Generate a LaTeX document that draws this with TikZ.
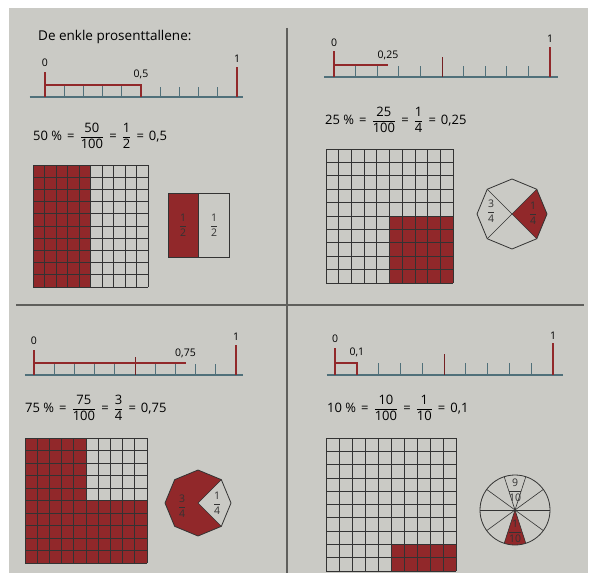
\documentclass[tikz,border=0pt]{standalone}
\usepackage{amsmath}
\usepackage{fontspec}
\setmainfont{Open Sans}
\usepackage{tikz}
\usetikzlibrary{positioning, calc}
\definecolor{page}{RGB}{202,202,197}
\definecolor{brick}{RGB}{145,40,42}
\definecolor{axisblue}{RGB}{80,112,122}
\definecolor{rulegray}{RGB}{95,95,92}
\newcommand{\fr}[2]{$\dfrac{\text{#1}}{\text{#2}}$}
\newcommand{\eq}{\hspace{5pt}=\hspace{5pt}}

\tikzset{
  numaxis/.style={draw=axisblue, line width=1.1pt},
  nltick/.style={draw=axisblue, line width=1pt},
  halftick/.style={draw=brick!80!black, line width=1pt},
  redmark/.style={draw=brick, line width=1.4pt},
  gridcell/.style={draw=black!80, line width=0.7pt},
  nlabel/.style={font=\fontsize{10.5}{12}\selectfont, inner sep=0pt},
  eqn/.style={font=\fontsize{13}{15}\selectfont, anchor=west, inner sep=0pt},
  partlabel/.style={font=\fontsize{10.5}{12}\selectfont, inner sep=0pt, text=black!80},
}

\begin{document}
\begin{tikzpicture}[x=1pt, y=-1pt]
    \useasboundingbox (0,0) rectangle (591,575);
    \fill[white] (0,0) rectangle (591,575);
    \fill[page] (9,8) rectangle (588,573);

    % dividers
    \draw[rulegray, line width=1.1pt] (287,28) -- (287,573);
    \draw[rulegray, line width=1.1pt] (16,305) -- (584,305);

    \node[font=\fontsize{13.5}{16}\selectfont, anchor=base west, inner sep=0pt] (title) at (38,41) {De enkle prosenttallene:};

    % 50 %
    \begin{scope}[shift={(45,97)}, xscale=19.2]
      \draw[numaxis] (-0.8,0) -- (10.3,0);
      \foreach \k in {1,...,4} \draw[nltick] (\k,0) -- (\k,-12);
      \foreach \k in {6,...,9} \draw[nltick] (\k,0) -- (\k,-10);
      \draw[redmark] (0,0) -- (0,-25) (0,-12) -- (5,-12) -- (5,0) (10,0) -- (10,-30);
      \node[nlabel] (zeroA) at (0,-34) {0};
      \node[nlabel] (markA) at (5,-23) {0,5};
      \node[nlabel] (oneA) at (10,-38) {1};
    \end{scope}
    \node[eqn] (eqA) at (33,136) {50 \%\eq\fr{50}{100}\eq\fr{1}{2}\eq0,5};
    \begin{scope}[shift={(33,165)}, xscale=11.5, yscale=12.2]
      \fill[brick] (0,0) rectangle (5,10);
      \foreach \i in {0,...,10} {
        \draw[gridcell] (\i,0) -- (\i,10);
        \draw[gridcell] (0,\i) -- (10,\i);
      }
    \end{scope}
    \fill[brick] (168,193) rectangle (198.5,257);
    \draw[gridcell, line width=0.8pt] (168,193) rectangle (229,257) (198.5,193) -- (198.5,257);
    \node[partlabel] (halfL) at (183,225) {\fr{1}{2}};
    \node[partlabel] (halfR) at (214,225) {\fr{1}{2}};

    % 25 %
    \begin{scope}[shift={(334,77)}, xscale=21.6]
      \draw[numaxis] (-0.45,0) -- (10.35,0);
      \foreach \k in {1,2} \draw[nltick] (\k,0) -- (\k,-12);
      \foreach \k in {3,4,6,7,8,9} \draw[nltick] (\k,0) -- (\k,-11);
      \draw[halftick] (5,0) -- (5,-20);
      \draw[redmark] (0,0) -- (0,-26) (0,-12) -- (2.5,-12) (10,0) -- (10,-30);
      \node[nlabel] (zeroB) at (0,-34) {0};
      \node[nlabel] (markB) at (2.5,-22) {0,25};
      \node[nlabel] (oneB) at (10,-38) {1};
    \end{scope}
    \node[eqn] (eqB) at (325,120) {25 \%\eq\fr{25}{100}\eq\fr{1}{4}\eq0,25};
    \begin{scope}[shift={(326,149)}, xscale=12.7, yscale=13.4]
      \fill[brick] (5,5) rectangle (10,10);
      \foreach \i in {0,...,10} {
        \draw[gridcell] (\i,0) -- (\i,10);
        \draw[gridcell] (0,\i) -- (10,\i);
      }
    \end{scope}
    \begin{scope}[shift={(512,214)}, yscale=-1]
      \fill[brick] (0,0) -- (45:35) -- (0:35) -- (-45:35) -- cycle;
      \draw[gridcell, line width=0.8pt] (0:35) \foreach \a in {45,90,...,315} { -- (\a:35) } -- cycle;
      \draw[gridcell, line width=0.6pt] (45:35) -- (225:35) (135:35) -- (-45:35);
      \node[partlabel] (threeB) at (-21,3) {\fr{3}{4}};
      \node[partlabel] (quarterB) at (21,1) {\fr{1}{4}};
    \end{scope}

    % 75 %
    \begin{scope}[shift={(34,375)}, xscale=20.2]
      \draw[numaxis] (-0.45,0) -- (10.35,0);
      \foreach \k in {1,2,3,4,6,7} \draw[nltick] (\k,0) -- (\k,-12);
      \foreach \k in {8,9} \draw[nltick] (\k,0) -- (\k,-11);
      \draw[halftick] (5,0) -- (5,-18);
      \draw[redmark] (0,0) -- (0,-25) (0,-12) -- (7.5,-12) (10,0) -- (10,-30);
      \node[nlabel] (zeroC) at (0,-34) {0};
      \node[nlabel] (markC) at (7.5,-22) {0,75};
      \node[nlabel] (oneC) at (10,-38) {1};
    \end{scope}
    \node[eqn] (eqC) at (25,408) {75 \%\eq\fr{75}{100}\eq\fr{3}{4}\eq0,75};
    \begin{scope}[shift={(25,438)}, xscale=12.2, yscale=12.5]
      \fill[brick] (0,0) -- (5,0) -- (5,5) -- (10,5) -- (10,10) -- (0,10) -- cycle;
      \foreach \i in {0,...,10} {
        \draw[gridcell] (\i,0) -- (\i,10);
        \draw[gridcell] (0,\i) -- (10,\i);
      }
    \end{scope}
    \begin{scope}[shift={(198,503)}, yscale=-1]
      \fill[brick] (0,0) \foreach \a in {45,90,...,315} { -- (\a:33) } -- cycle;
      \draw[gridcell, line width=0.8pt] (0:33) \foreach \a in {45,90,...,315} { -- (\a:33) } -- cycle;
      \draw[gridcell, line width=0.6pt] (45:33) -- (0,0) -- (-45:33);
      \node[partlabel] (threeC) at (-16,-3) {\fr{3}{4}};
      \node[partlabel] (quarterC) at (19,0) {\fr{1}{4}};
    \end{scope}

    % 10 %
    \begin{scope}[shift={(335,375)}, xscale=21.8]
      \draw[numaxis] (-0.37,0) -- (10.45,0);
      \foreach \k in {2,3,4,6,7,8,9} \draw[nltick] (\k,0) -- (\k,-12);
      \draw[halftick] (5,0) -- (5,-21);
      \draw[redmark] (0,0) -- (0,-27) (0,-12) -- (1,-12) -- (1,0) (10,0) -- (10,-32);
      \node[nlabel] (zeroD) at (0,-36) {0};
      \node[nlabel] (markD) at (1,-23) {0,1};
      \node[nlabel] (oneD) at (10,-39) {1};
    \end{scope}
    \node[eqn] (eqD) at (327,408) {10 \%\eq\fr{10}{100}\eq\fr{1}{10}\eq0,1};
    \begin{scope}[shift={(326,438)}, xscale=13, yscale=13.3]
      \fill[brick] (5,8) rectangle (10,10);
      \foreach \i in {0,...,10} {
        \draw[gridcell] (\i,0) -- (\i,10);
        \draw[gridcell] (0,\i) -- (10,\i);
      }
    \end{scope}
    \begin{scope}[shift={(515,510)}, yscale=-1]
      \fill[brick] (0,0) -- (252:35) arc[start angle=252, end angle=288, radius=35] -- cycle;
      \foreach \a in {0,36,...,144} \draw[gridcell, line width=0.6pt] (\a:35) -- (\a+180:35);
      \draw[gridcell, line width=0.8pt] (0,0) circle[radius=35];
      \node[partlabel] (nineD) at (0,20) {\fr{9}{10}};
      \node[partlabel] (tenthD) at (0,-21) {\fr{1}{10}};
    \end{scope}
\end{tikzpicture}
\end{document}
